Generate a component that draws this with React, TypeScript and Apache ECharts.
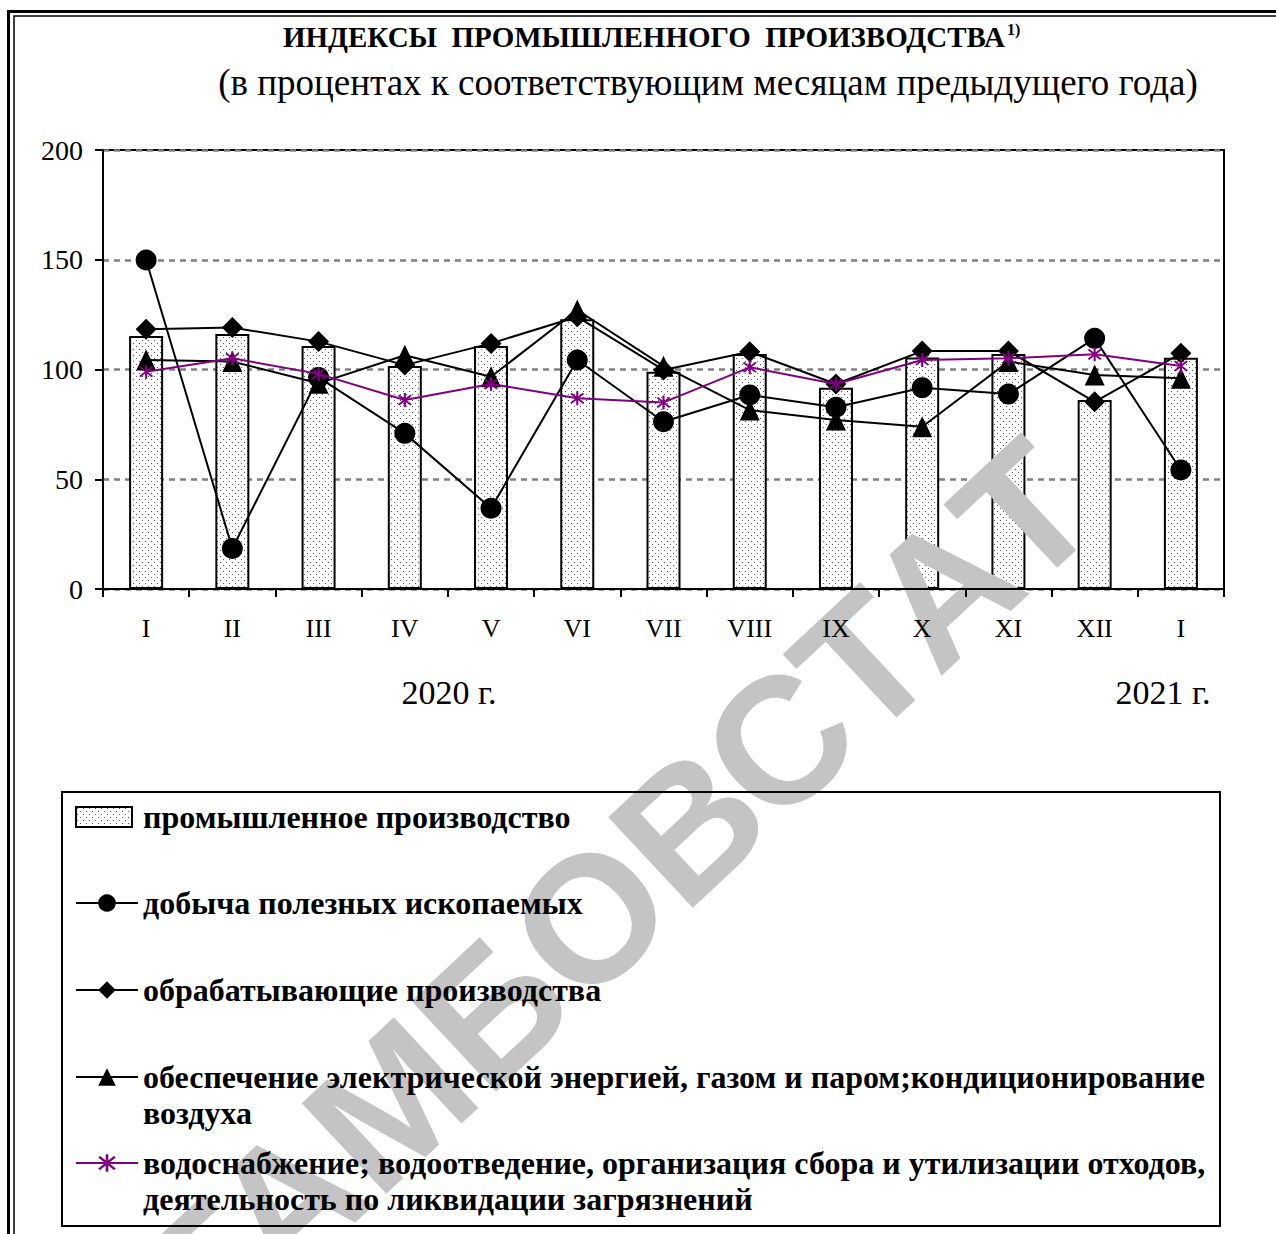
import React, { useEffect, useRef } from 'react';
import * as echarts from 'echarts';

const categories = ['I', 'II', 'III', 'IV', 'V', 'VI', 'VII', 'VIII', 'IX', 'X', 'XI', 'XII', 'I'];
const industry = [115.3, 116.2, 110.7, 101.6, 110.7, 122.9, 99.0, 107.1, 91.7, 105.5, 107.1, 86.1, 105.4];
const mining = [149.9, 18.5, 96.4, 70.9, 36.8, 104.3, 76.2, 88.4, 82.8, 91.7, 88.8, 114.2, 54.2];
const manufacturing = [118.3, 119.1, 112.7, 102.0, 111.9, 124.0, 99.8, 108.1, 93.4, 108.4, 108.4, 85.3, 107.4];
const energy = [104.3, 103.6, 93.7, 106.5, 96.7, 127.1, 101.5, 81.5, 77.0, 73.9, 103.6, 97.5, 96.0];
const water = [99.0, 105.1, 98.0, 86.1, 93.4, 86.9, 85.0, 101.0, 93.4, 104.3, 105.1, 106.9, 101.6];

const seriesNames = [
  'промышленное производство',
  'добыча полезных ископаемых',
  'обрабатывающие производства',
  'обеспечение электрической энергией, газом и паром;кондиционирование воздуха',
  'водоснабжение; водоотведение, организация сбора и утилизации отходов, деятельность по ликвидации загрязнений',
];
const legendWrapped: Record<string, string> = {
  [seriesNames[3]]: '\nобеспечение электрической энергией, газом и паром;кондиционирование\nвоздуха',
  [seriesNames[4]]: '\nводоснабжение; водоотведение, организация сбора и утилизации отходов,\nдеятельность по ликвидации загрязнений',
};
const yearLabels = ['2020 г.', '2021 г.'];
const titleText = 'ИНДЕКСЫ  ПРОМЫШЛЕННОГО  ПРОИЗВОДСТВА';
const titleNote = '1)';
const subtitleText = '(в процентах к соответствующим месяцам предыдущего года)';
const watermarkText = 'ТАМБОВСТАТ';

const FONT = '"Liberation Serif", "Times New Roman", serif';
const STAR =
  'path://M8.8 0L11.2 0L11.2 20L8.8 20Z M3.78 2.08L17.92 16.22L16.22 17.92L2.08 3.78Z M17.92 3.78L3.78 17.92L2.08 16.22L16.22 2.08Z';

function makeDots(): string {
  const c = document.createElement('canvas');
  c.width = 6;
  c.height = 6;
  const ctx = c.getContext('2d')!;
  ctx.fillStyle = '#ffffff';
  ctx.fillRect(0, 0, 6, 6);
  ctx.fillStyle = '#555555';
  ctx.fillRect(1, 1, 1, 1);
  ctx.fillRect(4, 4, 1, 1);
  return c.toDataURL();
}

export default function App() {
  const ref = useRef<HTMLDivElement>(null);
  useEffect(() => {
    document.body.style.margin = '0';
    const chart = echarts.init(ref.current!, null, { renderer: 'svg' });
    const dots = makeDots();
    const pattern: any = { image: dots, repeat: 'repeat', imageWidth: 6, imageHeight: 6 };

    const legendText = {
      fontFamily: FONT,
      fontWeight: 'bold',
      fontSize: 32,
      lineHeight: 36,
      color: '#000',
    };
    const legendBase: any = {
      orient: 'vertical',
      left: 75,
      padding: 0,
      itemWidth: 62,
      itemHeight: 22,
      selectedMode: false,
      formatter: (n: string) => legendWrapped[n] || n,
      textStyle: legendText,
    };

    const lineCommon = (name: string, data: number[], symbol: string, size: any, color: string) => ({
      type: 'line',
      name,
      data,
      symbol,
      symbolSize: size,
      z: 5,
      itemStyle: { color },
      lineStyle: { color, width: 2 },
    });

    const option: any = {
      animation: false,
      backgroundColor: '#ffffff',
      grid: {
        left: 103,
        right: 52,
        top: 150,
        bottom: 645,
        show: true,
        borderColor: '#000',
        borderWidth: 2,
        containLabel: false,
      },
      xAxis: {
        type: 'category',
        data: categories,
        boundaryGap: true,
        z: 4,
        axisLine: { show: true, lineStyle: { color: '#000', width: 2 } },
        axisTick: { show: true, length: 8, lineStyle: { color: '#000', width: 2 } },
        axisLabel: { color: '#000', fontFamily: FONT, fontSize: 26, margin: 26, interval: 0 },
        splitLine: { show: false },
      },
      yAxis: {
        type: 'value',
        min: 0,
        max: 200,
        interval: 50,
        axisLine: { show: true, lineStyle: { color: '#000', width: 2 } },
        axisTick: { show: true, length: 8, lineStyle: { color: '#000', width: 2 } },
        axisLabel: { color: '#000', fontFamily: FONT, fontSize: 28, margin: 20 },
        splitLine: { show: true, lineStyle: { color: '#808080', width: 2.5, type: [6, 5] } },
      },
      legend: [
        {
          ...legendBase,
          top: 799,
          itemWidth: 56,
          itemHeight: 20,
          data: [{ name: seriesNames[0], icon: 'rect' }],
          textStyle: { ...legendText, padding: [0, 0, 0, 6] },
        },
        { ...legendBase, top: 885, data: [seriesNames[1]] },
        { ...legendBase, top: 972, data: [seriesNames[2]] },
        { ...legendBase, top: 1023, data: [seriesNames[3]] },
        { ...legendBase, top: 1109, data: [seriesNames[4]] },
      ],
      series: [
        {
          type: 'bar',
          name: seriesNames[0],
          data: industry,
          barWidth: 34,
          z: 2,
          itemStyle: { color: pattern, borderColor: '#000', borderWidth: 2 },
        },
        lineCommon(seriesNames[1], mining, 'circle', 21, '#000'),
        lineCommon(seriesNames[2], manufacturing, 'diamond', [21, 21], '#000'),
        lineCommon(seriesNames[3], energy, 'triangle', [20, 21], '#000'),
        { ...lineCommon(seriesNames[4], water, STAR, 14, '#800080'), z: 6 },
      ],
      graphic: [
        {
          type: 'text',
          z: 3,
          silent: true,
          x: 616,
          y: 894,
          rotation: (43 * Math.PI) / 180,
          style: {
            text: watermarkText,
            fill: '#c4c4c4',
            font: 'bold 180px "Liberation Sans", Arial, sans-serif',
            textAlign: 'center',
            textVerticalAlign: 'middle',
          },
        },
        {
          type: 'rect',
          z: 10,
          silent: true,
          shape: { x: 8.5, y: 11.5, width: 1400, height: 1400 },
          style: { fill: 'none', stroke: '#000', lineWidth: 3 },
        },
        {
          type: 'rect',
          z: 10,
          silent: true,
          shape: { x: 14, y: 16, width: 1400, height: 1400 },
          style: { fill: 'none', stroke: '#000', lineWidth: 1.5 },
        },
        {
          type: 'rect',
          z: 10,
          silent: true,
          shape: { x: 62, y: 792, width: 1158, height: 434 },
          style: { fill: 'none', stroke: '#000', lineWidth: 2 },
        },
        {
          type: 'text',
          z: 10,
          x: 1005,
          y: 37,
          style: {
            text: titleText,
            fill: '#000',
            font: `bold 29px ${FONT}`,
            textAlign: 'right',
            textVerticalAlign: 'middle',
          },
        },
        {
          type: 'text',
          z: 10,
          x: 1007,
          y: 29,
          style: {
            text: titleNote,
            fill: '#000',
            font: `bold 16px ${FONT}`,
            textAlign: 'left',
            textVerticalAlign: 'middle',
          },
        },
        {
          type: 'text',
          z: 10,
          x: 708,
          y: 82,
          style: {
            text: subtitleText,
            fill: '#000',
            font: `37px ${FONT}`,
            textAlign: 'center',
            textVerticalAlign: 'middle',
          },
        },
        {
          type: 'text',
          z: 10,
          x: 449,
          y: 692,
          style: { text: yearLabels[0], fill: '#000', font: `34px ${FONT}`, textAlign: 'center', textVerticalAlign: 'middle' },
        },
        {
          type: 'text',
          z: 10,
          x: 1163,
          y: 692,
          style: { text: yearLabels[1], fill: '#000', font: `34px ${FONT}`, textAlign: 'center', textVerticalAlign: 'middle' },
        },
      ],
    };
    chart.setOption(option);
    return () => chart.dispose();
  }, []);
  return <div ref={ref} style={{ width: 1276, height: 1234 }} />;
}
